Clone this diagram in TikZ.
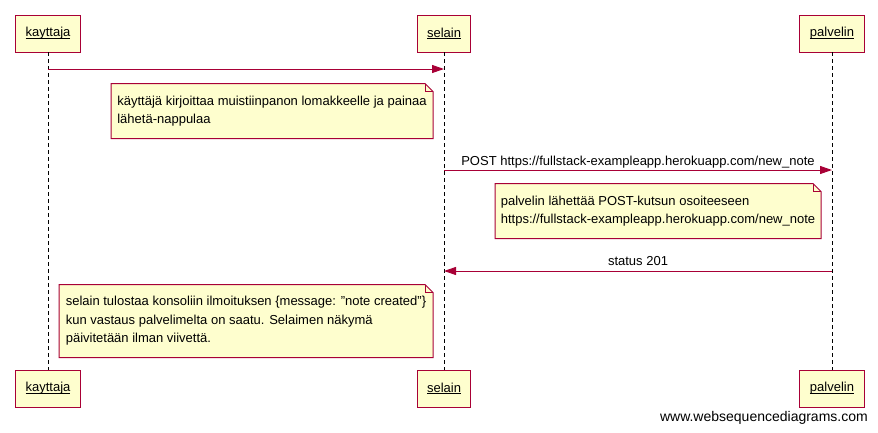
\documentclass[tikz,border=0pt]{standalone}
\usepackage{fontspec}
\setmainfont{Liberation Sans}
\usetikzlibrary{arrows.meta}
\definecolor{wsdred}{HTML}{A80036}
\definecolor{wsdfill}{HTML}{FEFECE}
\newcommand{\ulname}[1]{\sbox0{#1}\rlap{\usebox0}\rule[-1.5pt]{\wd0}{0.6pt}}
\newcommand{\notefold}[1]{%
  \fill[white] ([xshift=-8pt]#1.north east) -- (#1.north east) -- ([yshift=-8pt]#1.north east) -- cycle;
  \draw[noteline] (#1.north west) -- ([xshift=-8pt]#1.north east) -- ([yshift=-8pt]#1.north east)
    -- (#1.south east) -- (#1.south west) -- cycle;
  \draw[wsdred, line width=0.6pt] ([xshift=-8pt]#1.north east) -- ([xshift=-8pt,yshift=-8pt]#1.north east)
    -- ([yshift=-8pt]#1.north east);}

\begin{document}
\begin{tikzpicture}[x=1pt, y=-1pt, font=\fontsize{13}{18.5}\selectfont,
    actor/.style={draw=wsdred, fill=wsdfill, line width=1pt, minimum height=37pt,
      inner xsep=10pt, outer sep=0pt},
    note/.style={fill=wsdfill, inner sep=0pt, outer sep=0pt, align=left},
    noteline/.style={draw=wsdred, line width=1pt},
    lifeline/.style={black, line width=0.9pt, dash pattern=on 4pt off 3pt},
    msg/.style={wsdred, line width=1pt, -{Triangle[length=12pt, width=8pt]}},
    msglabel/.style={black, anchor=base, inner sep=0pt}]
  \useasboundingbox[fill=white] (0,0) rectangle (878,432);

  % participants
  \node[actor] (ktop) at (48,33.5) {\ulname{kayttaja}};
  \node[actor] (stop) at (444,33.5) {\ulname{selain}};
  \node[actor] (ptop) at (832,33.5) {\ulname{palvelin}};
  \node[actor] (kbot) at (48,388.5) {\ulname{kayttaja}};
  \node[actor] (sbot) at (444,388.5) {\ulname{selain}};
  \node[actor] (pbot) at (832,388.5) {\ulname{palvelin}};

  \draw[lifeline] (ktop.south) -- (kbot.north);
  \draw[lifeline] (stop.south) -- (sbot.north);
  \draw[lifeline] (ptop.south) -- (pbot.north);

  % messages
  \coordinate (m1s) at (48,69);
  \coordinate (m1e) at (444,69);
  \draw[msg] (m1s) -- (m1e);

  \node[note, minimum width=322pt, minimum height=55pt] (n1) at (272,111)
    {käyttäjä kirjoittaa muistiinpanon lomakkeelle ja painaa\\lähetä-nappulaa};
  \notefold{n1}

  \coordinate (m2s) at (444,170);
  \coordinate (m2e) at (832,170);
  \draw[msg] (m2s) -- node[msglabel, yshift=4.5pt] (l2) {POST https://fullstack-exampleapp.herokuapp.com/new\_note} (m2e);

  \node[note, minimum width=326pt, minimum height=55pt] (n2) at (658,211)
    {palvelin lähettää POST-kutsun osoiteeseen\\https://fullstack-exampleapp.herokuapp.com/new\_note};
  \notefold{n2}

  \coordinate (m3s) at (832,271);
  \coordinate (m3e) at (444,271);
  \draw[msg] (m3s) -- node[msglabel, yshift=5.5pt] (l3) {status 201} (m3e);

  \node[note, minimum width=374pt, minimum height=73pt] (n3) at (246,321)
    {selain tulostaa konsoliin ilmoituksen \{message: "note created"\}\\kun vastaus palvelimelta on saatu. Selaimen näkymä\\päivitetään ilman viivettä.};
  \notefold{n3}

  \node[anchor=base east, inner sep=0pt, font=\fontsize{14}{16}\selectfont] (wsd) at (868,421) {www.websequencediagrams.com};
\end{tikzpicture}
\end{document}
